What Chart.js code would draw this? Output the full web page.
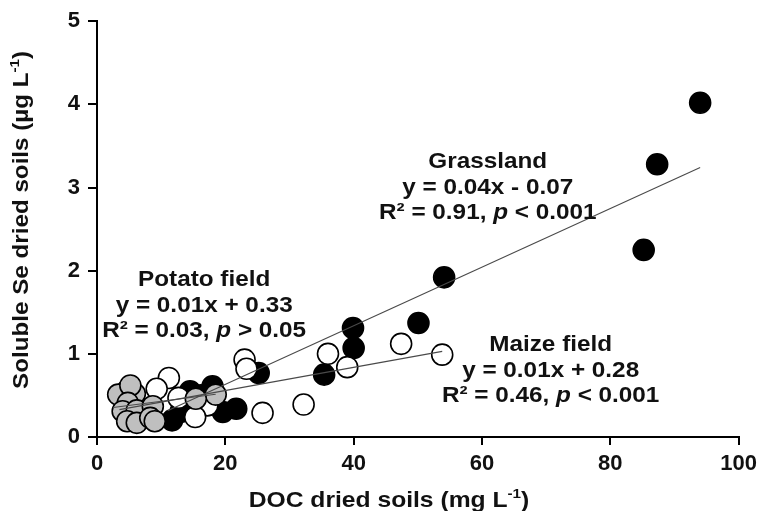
<!DOCTYPE html>
<html>
<head>
<meta charset="utf-8">
<script src="https://cdn.jsdelivr.net/npm/chart.js@4/dist/chart.umd.min.js"></script>
<style>
  html, body { margin: 0; padding: 0; background: #fff; }
  canvas { display: block; }
</style>
</head>
<body>
<canvas id="chart" width="763" height="511"></canvas>
<script>
// Axis ticks
const xTickValues = [0, 20, 40, 60, 80, 100];
const yTickValues = [0, 1, 2, 3, 4, 5];

// Grassland soils (filled black)
const grassDOC = [94.0, 87.3, 85.2, 54.1, 50.1, 39.9, 40.0, 35.4, 25.2, 21.7, 19.6, 18.0, 14.5, 16.2, 11.7, 13.0];
const grassSe  = [4.02, 3.28, 2.25, 1.92, 1.37, 1.31, 1.07, 0.75, 0.77, 0.34, 0.30, 0.61, 0.55, 0.50, 0.20, 0.30];

// Maize field soils (open circles)
const maizeDOC = [53.8, 47.4, 39.0, 36.0, 32.2, 25.8, 23.0, 23.3, 17.2, 15.3, 12.7, 11.2, 9.3];
const maizeSe  = [0.99, 1.12, 0.84, 1.00, 0.39, 0.29, 0.93, 0.82, 0.38, 0.24, 0.47, 0.71, 0.58];

// Potato field soils (grey circles)
const potatoDOC = [4.7, 3.3, 5.9, 5.2, 4.8, 4.0, 6.2, 4.7, 6.2, 8.7, 8.3, 9.0, 18.5, 15.4];
const potatoSe  = [0.56, 0.51, 0.52, 0.62, 0.41, 0.31, 0.32, 0.19, 0.17, 0.37, 0.23, 0.19, 0.51, 0.46];

// Linear fits, drawn between their end points
const grassFitDOC  = [11, 94];
const grassFitSe   = [0.317, 3.24];
const maizeFitDOC  = [3.5, 53.8];
const maizeFitSe   = [0.329, 1.03];
const potatoFitDOC = [2.5, 18.5];
const potatoFitSe  = [0.355, 0.515];

// Fit annotations
const grassNote  = ['Grassland', 'y = 0.04x - 0.07', '0.91', '<', '0.001'];
const maizeNote  = ['Maize field', 'y = 0.01x + 0.28', '0.46', '<', '0.001'];
const potatoNote = ['Potato field', 'y = 0.01x + 0.33', '0.03', '>', '0.05'];

const pairs = (xs, ys) => xs.map((x, i) => ({ x: x, y: ys[i] }));

const FONT = '"Liberation Sans", Arial, sans-serif';
const INK = '#111';

// Draws a line of mixed text (italic / superscript runs) centred on (cx, cy)
function drawRich(ctx, segs, cx, cy, size, stretch, rotate) {
  const fontFor = s => (s.italic ? 'italic ' : '') + 'bold ' + (s.sup ? size * 0.62 : size) + 'px ' + FONT;
  let total = 0;
  const widths = segs.map(s => { ctx.font = fontFor(s); const w = ctx.measureText(s.text).width; total += w; return w; });
  ctx.save();
  ctx.translate(cx, cy);
  if (rotate) ctx.rotate(-Math.PI / 2);
  ctx.scale(stretch, 1);
  ctx.fillStyle = INK;
  ctx.textBaseline = 'alphabetic';
  ctx.textAlign = 'left';
  let x = -total / 2;
  const base = size * 0.716 / 2;
  segs.forEach((s, i) => {
    ctx.font = fontFor(s);
    ctx.fillText(s.text, x, s.sup ? base - size * 0.42 : base);
    x += widths[i];
  });
  ctx.restore();
}

function noteLines(note) {
  return [
    [{ text: note[0] }],
    [{ text: note[1] }],
    [{ text: 'R\u00B2 = ' + note[2] + ', ' }, { text: 'p', italic: true }, { text: ' ' + note[3] + ' ' + note[4] }]
  ];
}

// Text layer: fit annotations and the two axis titles
const textLayer = {
  id: 'textLayer',
  afterDatasetsDraw(chart) {
    const ctx = chart.ctx;
    const xs = chart.scales.x, ys = chart.scales.y;
    const notes = [
      { note: grassNote,  at: [60.9, 3.33] },
      { note: maizeNote,  at: [70.7, 1.13] },
      { note: potatoNote, at: [16.7, 1.91] }
    ];
    notes.forEach(n => {
      const px = xs.getPixelForValue(n.at[0]);
      const py = ys.getPixelForValue(n.at[1]);
      noteLines(n.note).forEach((segs, i) => drawRich(ctx, segs, px, py + i * 25.5, 22.5, 1.08, false));
    });
    drawRich(ctx, [{ text: 'DOC dried soils (mg L' }, { text: '-1', sup: true }, { text: ')' }],
      389, 499.5, 22, 1.12, false);
    drawRich(ctx, [{ text: 'Soluble Se dried soils (\u00B5g L' }, { text: '-1', sup: true }, { text: ')' }],
      20, 220, 22, 1.1, true);
  }
};

const pointStyle = (fill) => ({
  type: 'scatter',
  pointRadius: 10.5,
  pointHoverRadius: 10.5,
  pointBackgroundColor: fill,
  pointBorderColor: '#000',
  pointBorderWidth: 1.6,
  showLine: false
});

const fitStyle = {
  type: 'line',
  borderColor: '#4a4a4a',
  borderWidth: 1.1,
  pointRadius: 0,
  fill: false,
  tension: 0
};

new Chart(document.getElementById('chart'), {
  data: {
    datasets: [
      Object.assign({ label: 'Grassland fit', data: pairs(grassFitDOC, grassFitSe) }, fitStyle),
      Object.assign({ label: 'Maize field fit', data: pairs(maizeFitDOC, maizeFitSe) }, fitStyle),
      Object.assign({ label: 'Potato field fit', data: pairs(potatoFitDOC, potatoFitSe) }, fitStyle),
      Object.assign({ label: 'Potato field', data: pairs(potatoDOC, potatoSe) }, pointStyle('#bfbfbf')),
      Object.assign({ label: 'Maize field', data: pairs(maizeDOC, maizeSe) }, pointStyle('#ffffff')),
      Object.assign({ label: 'Grassland', data: pairs(grassDOC, grassSe) }, pointStyle('#000000'))
    ]
  },
  options: {
    responsive: false,
    animation: false,
    devicePixelRatio: 1,
    layout: { padding: { top: 21, right: 24, left: 0, bottom: 0 } },
    plugins: { legend: { display: false }, tooltip: { enabled: false } },
    scales: {
      x: {
        type: 'linear',
        min: 0, max: 100,
        afterBuildTicks: s => { s.ticks = xTickValues.map(v => ({ value: v })); },
        afterFit: s => { s.height = 74; },
        border: { color: '#000', width: 2 },
        grid: { drawOnChartArea: false, drawTicks: true, tickLength: 8, color: '#000', lineWidth: 2 },
        ticks: { color: INK, padding: 6, font: { family: FONT, size: 22, weight: 'bold' }, maxRotation: 0 }
      },
      y: {
        type: 'linear',
        min: 0, max: 5,
        afterBuildTicks: s => { s.ticks = yTickValues.map(v => ({ value: v })); },
        afterFit: s => { s.width = 97; },
        border: { color: '#000', width: 2 },
        grid: { drawOnChartArea: false, drawTicks: true, tickLength: 9, color: '#000', lineWidth: 2 },
        ticks: { color: INK, padding: 8, font: { family: FONT, size: 22, weight: 'bold' } }
      }
    }
  },
  plugins: [textLayer]
});
</script>
</body>
</html>
